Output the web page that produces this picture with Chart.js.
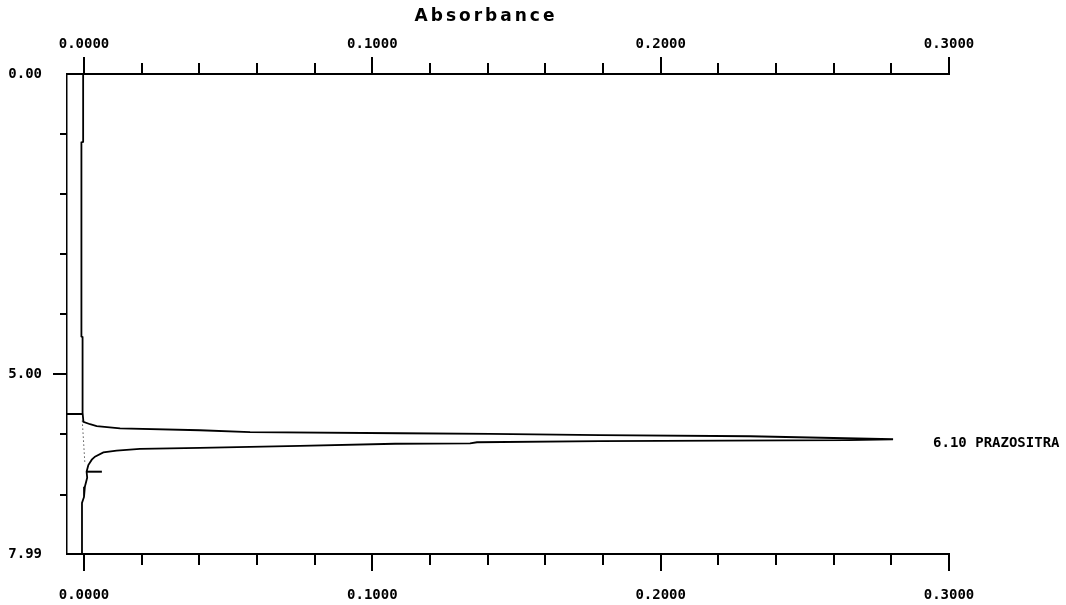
<!DOCTYPE html>
<html>
<head>
<meta charset="utf-8">
<title>Absorbance - 6.10 PRAZOSITRA</title>
<script src="https://cdn.jsdelivr.net/npm/chart.js@4.4.1/dist/chart.umd.min.js"></script>
<style>
  html, body { margin: 0; padding: 0; background: #fff; }
  canvas { display: block; }
</style>
</head>
<body>
<canvas id="chrom" width="1066" height="605"></canvas>
<script>
/* ---- data (time in min, absorbance) ---- */
const traceTime = [0.00, 1.13, 1.14, 4.37, 4.38, 5.64, 5.79, 5.83, 5.86, 5.90, 5.93, 5.96, 5.98,
  5.99, 6.01, 6.03, 6.08, 6.095, 6.11, 6.13, 6.15, 6.155, 6.19, 6.225, 6.24, 6.27, 6.30, 6.37,
  6.42, 6.51, 6.62, 6.72, 6.87, 7.04, 7.14, 7.99];
const traceAbs = [-0.0003, -0.0003, -0.0009, -0.0009, -0.0005, -0.0005, -0.0002, 0.0021, 0.0044,
  0.0125, 0.0402, 0.0576, 0.1096, 0.1408, 0.1790, 0.2310, 0.2806, 0.2650, 0.1790, 0.1363, 0.1339,
  0.1079, 0.0749, 0.0402, 0.0194, 0.0113, 0.0067, 0.0038, 0.0027, 0.0015, 0.0009, 0.0011, 0.0003,
  0.0000, -0.0007, -0.0007];

// drop line, peak marker, baseline start marker
const dropTime = [5.77, 6.48];
const dropAbs = [-0.0006, 0.0003];
const markTime = [6.62, 6.62];
const markAbs = [0.0010, 0.0062];
const startTime = [5.66, 5.66];
const startAbs = [-0.0059, -0.0007];

const peakTime = 6.10;
const peakAbs = 0.2806;
const peakLabel = '6.10 PRAZOSITRA';

/* ---- axes ---- */
const absTicks = [0, 0.02, 0.04, 0.06, 0.08, 0.1, 0.12, 0.14, 0.16, 0.18, 0.2, 0.22, 0.24, 0.26, 0.28, 0.3];
const absLabels = [0, 0.1, 0.2, 0.3];
const timeTicks = [0, 1, 2, 3, 4, 5, 6, 7, 7.99];
const timeLabels = [0, 5, 7.99];
const timeMajor = [5];

const MONO = 'DejaVu Sans Mono';

const pts = (ts, as) => ts.map((t, i) => ({ x: as[i], y: t }));
const lineDs = (data, extra) => Object.assign({
  data, showLine: true, borderColor: '#000', borderWidth: 1.8,
  pointRadius: 0, tension: 0, fill: false
}, extra);

// tick marks, title and peak label
const decor = {
  id: 'decor',
  afterDraw(chart) {
    const { ctx, chartArea: a, scales } = chart;
    const x = scales.x, y = scales.y;
    ctx.save();
    ctx.strokeStyle = '#000';
    ctx.lineWidth = 2;
    ctx.beginPath();
    absTicks.forEach(v => {
      const px = Math.round(x.getPixelForValue(v));
      const len = absLabels.includes(v) ? 17 : 11;
      ctx.moveTo(px, a.top); ctx.lineTo(px, a.top - len);
      ctx.moveTo(px, a.bottom); ctx.lineTo(px, a.bottom + len);
    });
    timeTicks.forEach(v => {
      if (v === 0 || v === 7.99) return;
      const py = Math.round(y.getPixelForValue(v));
      const len = timeMajor.includes(v) ? 14 : 7;
      ctx.moveTo(a.left, py); ctx.lineTo(a.left - len, py);
    });
    ctx.stroke();

    ctx.fillStyle = '#000';
    ctx.font = 'bold 17px "DejaVu Sans"';
    if ('letterSpacing' in ctx) ctx.letterSpacing = '3px';
    ctx.textAlign = 'center';
    ctx.textBaseline = 'middle';
    ctx.fillText('Absorbance', a.left + 419, 17);
    if ('letterSpacing' in ctx) ctx.letterSpacing = '0px';

    ctx.font = 'bold 14px "' + MONO + '"';
    ctx.textAlign = 'left';
    ctx.fillText(peakLabel, x.getPixelForValue(peakAbs) + 40, y.getPixelForValue(peakTime) + 3);
    ctx.restore();
  }
};

const xAxis = (pos, h, pad) => ({
  type: 'linear', position: pos, min: -0.0059, max: 0.3,
  grid: { display: false, drawTicks: false },
  border: { display: true, color: '#000', width: 2 },
  afterBuildTicks: s => { s.ticks = absTicks.map(v => ({ value: v })); },
  afterFit: s => { s.height = h; },
  ticks: {
    autoSkip: false, maxRotation: 0, padding: pad, color: '#000',
    font: { family: MONO, size: 14, weight: 'bold' },
    callback: v => absLabels.includes(v) ? v.toFixed(4) : ''
  }
});

new Chart(document.getElementById('chrom'), {
  type: 'scatter',
  data: {
    datasets: [
      lineDs(pts(traceTime, traceAbs)),
      lineDs(pts(dropTime, dropAbs), { borderWidth: 1, borderDash: [1, 3] }),
      lineDs(pts(markTime, markAbs), { borderWidth: 2 }),
      lineDs(pts(startTime, startAbs), { borderWidth: 2 })
    ]
  },
  options: {
    responsive: false,
    animation: false,
    devicePixelRatio: 1,
    layout: { padding: { top: 0, left: 0, right: 117, bottom: 0 } },
    plugins: { legend: { display: false }, tooltip: { enabled: false }, title: { display: false } },
    scales: {
      x: xAxis('top', 74, 21),
      x2: xAxis('bottom', 51, 33),
      y: {
        type: 'linear', position: 'left', reverse: true, min: 0, max: 7.99,
        grid: { display: false, drawTicks: false },
        border: { display: true, color: '#000', width: 1.5 },
        afterBuildTicks: s => { s.ticks = timeTicks.map(v => ({ value: v })); },
        afterFit: s => { s.width = 67; },
        ticks: {
          autoSkip: false, padding: 25, color: '#000',
          font: { family: MONO, size: 14, weight: 'bold' },
          callback: v => timeLabels.includes(v) ? v.toFixed(2) : ''
        }
      }
    }
  },
  plugins: [decor]
});
</script>
</body>
</html>
